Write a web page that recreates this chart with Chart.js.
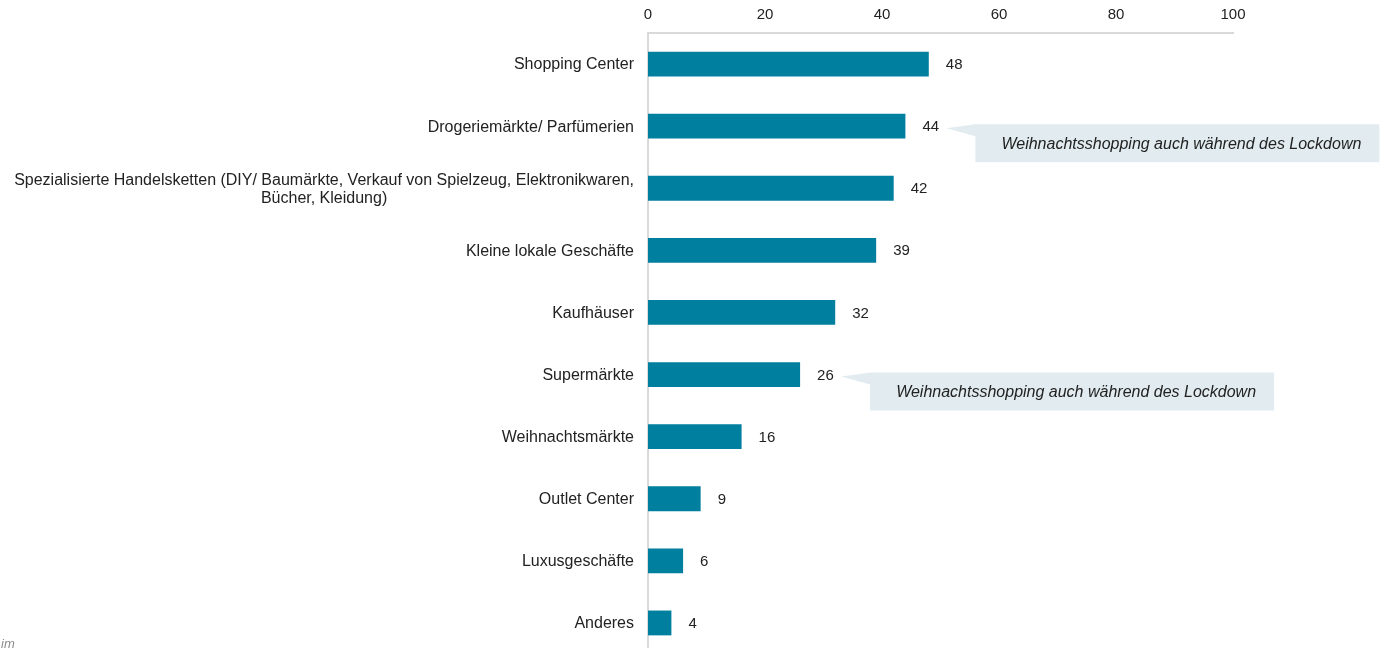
<!DOCTYPE html>
<html>
<head>
<meta charset="utf-8">
<script src="https://cdn.jsdelivr.net/npm/chart.js@4"></script>
<style>
  html, body { margin: 0; padding: 0; background: #fff; overflow: hidden; }
  #bar_chart { display: block; margin-top: -7px; }
</style>
</head>
<body>
<canvas id="bar_chart" width="1380" height="668"></canvas>
<script>
const categories = [
  "Shopping Center",
  "Drogeriemärkte/ Parfümerien",
  ["Spezialisierte Handelsketten (DIY/ Baumärkte, Verkauf von Spielzeug, Elektronikwaren,", "Bücher, Kleidung)"],
  "Kleine lokale Geschäfte",
  "Kaufhäuser",
  "Supermärkte",
  "Weihnachtsmärkte",
  "Outlet Center",
  "Luxusgeschäfte",
  "Anderes",
];
const values = [48, 44, 42, 39, 32, 26, 16, 9, 6, 4];
const xTicks = [0, 20, 40, 60, 80, 100];
const noteIndexes = [1, 5];
const noteText = "Weihnachtsshopping auch während des Lockdown";
const footText = "im";

const font = "Liberation Sans, Arial, sans-serif";

// draws category labels, value labels and the two callouts
const extras = {
  id: "extras",
  afterDatasetsDraw(chart) {
    const ctx = chart.ctx;
    const meta = chart.getDatasetMeta(0);
    const area = chart.chartArea;
    const yScale = chart.scales.y;
    ctx.save();
    ctx.fillStyle = "#222";
    ctx.font = "16px " + font;
    ctx.textBaseline = "middle";

    // category labels
    categories.forEach((c, i) => {
      const lines = Array.isArray(c) ? c : [c];
      const widest = Math.max(...lines.map((l) => ctx.measureText(l).width));
      const cx = area.left - 14 - widest / 2;
      const y0 = yScale.getPixelForTick(i) + 1 - ((lines.length - 1) * 18) / 2;
      ctx.textAlign = "center";
      lines.forEach((l, k) => ctx.fillText(l, cx, y0 + k * 18));
    });

    // value labels
    ctx.font = "15px " + font;
    ctx.textAlign = "left";
    meta.data.forEach((bar, i) => {
      ctx.fillText(String(values[i]), bar.x + 17, bar.y + 1);
    });

    // callouts
    noteIndexes.forEach((i) => {
      const bar = meta.data[i];
      const tipX = bar.x + 41;
      const tipY = bar.y + 2;
      const bx = tipX + 29;
      const by = bar.y - 2;
      const bw = 404;
      const bh = 38;
      ctx.fillStyle = "#e2ecf0";
      ctx.beginPath();
      ctx.moveTo(tipX, tipY);
      ctx.lineTo(bx, by);
      ctx.lineTo(bx + bw, by);
      ctx.lineTo(bx + bw, by + bh);
      ctx.lineTo(bx, by + bh);
      ctx.lineTo(bx, by + 12);
      ctx.closePath();
      ctx.fill();
      ctx.fillStyle = "#222";
      ctx.font = "italic 16px " + font;
      ctx.textAlign = "center";
      ctx.fillText(noteText, bx + bw / 2 + 4, by + bh / 2 + 1);
    });

    ctx.fillStyle = "#8c8c8c";
    ctx.font = "italic 13px " + font;
    ctx.textAlign = "left";
    ctx.textBaseline = "alphabetic";
    ctx.fillText(footText, 1, 655);
    ctx.restore();
  },
};

const ctx = document.getElementById("bar_chart").getContext("2d");
const chart = new Chart(ctx, {
  type: "bar",
  data: {
    labels: categories,
    datasets: [
      {
        data: values,
        backgroundColor: "#007f9f",
        borderWidth: 0,
        categoryPercentage: 1,
        barPercentage: 0.4,
      },
    ],
  },
  options: {
    indexAxis: "y",
    responsive: false,
    animation: false,
    layout: { padding: { left: 648, right: 147, top: 4, bottom: 7 } },
    plugins: { legend: { display: false }, tooltip: { enabled: false } },
    scales: {
      x: {
        position: "top",
        min: 0,
        max: 100,
        afterBuildTicks: (scale) => {
          scale.ticks = xTicks.map((v) => ({ value: v }));
        },
        grid: { display: false, drawTicks: false },
        border: { color: "#d9d9d9", width: 2 },
        ticks: { color: "#222", font: { family: font, size: 15 }, padding: 9 },
      },
      y: {
        grid: { display: false, drawTicks: false },
        border: { color: "#d9d9d9", width: 2 },
        ticks: { display: false },
      },
    },
  },
  plugins: [extras],
});
</script>
</body>
</html>
